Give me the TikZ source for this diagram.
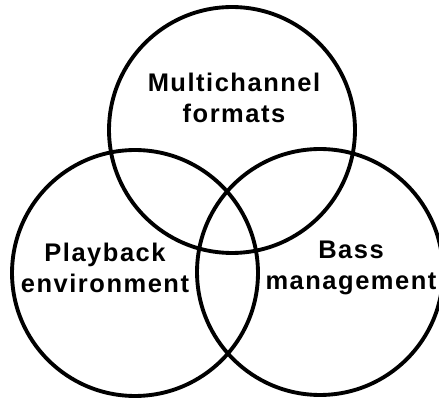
\documentclass[tikz,border=0pt]{standalone}
\usepackage{fontspec}
\setmainfont{Liberation Sans}
\begin{document}
\begin{tikzpicture}[x=0.02cm,y=-0.02cm,
  ring/.style={draw,line width=2.2pt,circle,minimum size=4.92cm,inner sep=0pt},
  venntext/.style={font=\bfseries\fontsize{14.5}{18}\selectfont\addfontfeature{LetterSpace=6},align=center}]
  \useasboundingbox (0,0) rectangle (439,401);
  % Three overlapping circles
  \node[ring] (formats) at (232,130) {};
  \node[ring] (playback) at (135,273) {};
  \node[ring] (bass) at (320,272) {};
  % Circle labels
  \node[venntext] (formatstext) at (234,98) {Multichannel\\formats};
  \node[venntext] (playbacktext) at (105,268) {Playback\\environment};
  \node[venntext] (basstext) at (351,268) {Bass\\management};
\end{tikzpicture}
\end{document}
